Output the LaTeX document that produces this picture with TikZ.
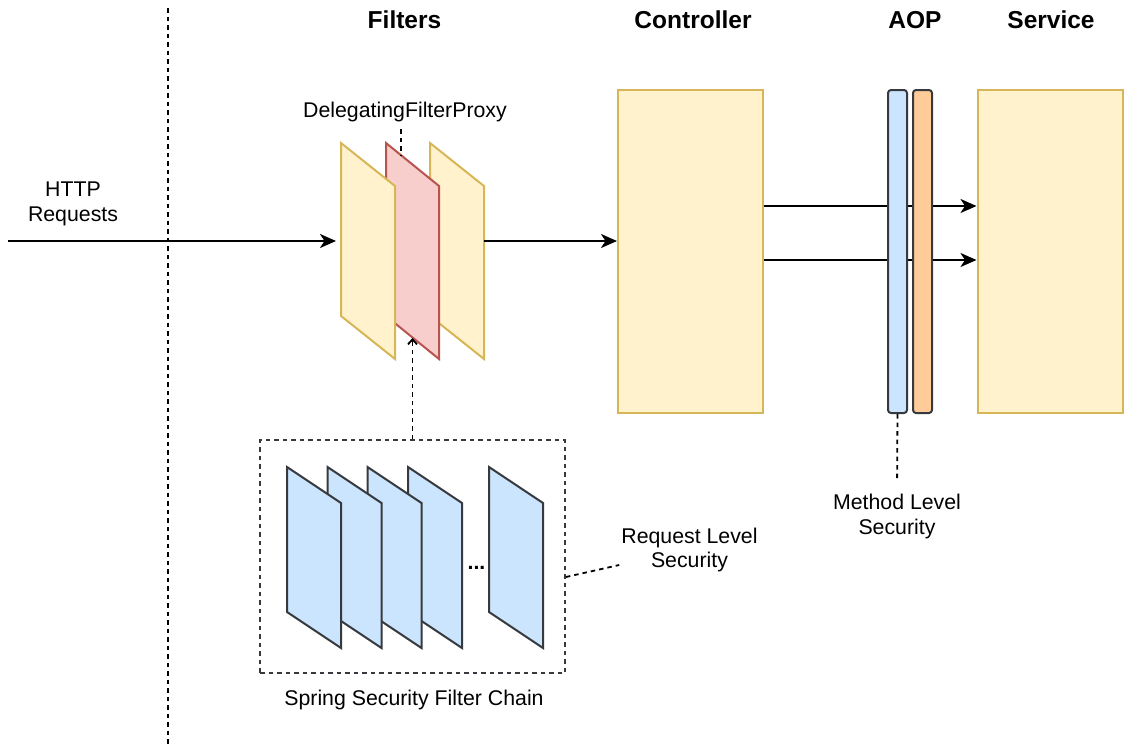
\documentclass[tikz,border=0pt]{standalone}
\usepackage{fontspec}
\setmainfont{Liberation Sans}
\usetikzlibrary{arrows.meta}
\definecolor{yfill}{HTML}{FFF2CC}
\definecolor{ydraw}{HTML}{D6B656}
\definecolor{rfill}{HTML}{F8CECC}
\definecolor{rdraw}{HTML}{B85450}
\definecolor{bfill}{HTML}{CCE5FF}
\definecolor{gdraw}{HTML}{36393D}
\definecolor{ofill}{HTML}{FFCC99}
\newcommand\plgram[6]{\draw[#1] (#2,#3) -- ++(#4,#5) -- ++(0,#6) -- ++(-#4,-#5) -- cycle;}
\begin{document}
\begin{tikzpicture}[x=1pt,y=-1pt,
  lbl/.style={font=\fontsize{21.3}{24.5}\selectfont, align=center, inner sep=2pt},
  hdr/.style={font=\fontsize{24.5}{28}\selectfont\bfseries, inner sep=0pt, anchor=base},
  ybox/.style={draw=ydraw, fill=yfill, line width=2pt},
  rbox/.style={draw=rdraw, fill=rfill, line width=2pt},
  bbox/.style={draw=gdraw, fill=bfill, line width=2pt},
  bar/.style={line width=2pt, rounded corners=3pt, minimum width=19pt, minimum height=323pt, inner sep=0pt},
  arr/.style={line width=2pt, -{Stealth[length=16pt, width=14pt, inset=4.5pt]}},
  dsh/.style={line width=1.8pt, dash pattern=on 4.5pt off 4pt},
]
\useasboundingbox (0,0) rectangle (1125,745);

% headers
\node[hdr] (hf) at (404.5,28) {Filters};
\node[hdr] (hc) at (693,28) {Controller};
\node[hdr] (ha) at (915,28) {AOP};
\node[hdr] (hs) at (1051,28) {Service};

% separator
\coordinate (sepTop) at (168,8);
\coordinate (sepBot) at (168,745);
\draw[dsh] (sepTop) -- (sepBot);

% HTTP requests
\node[lbl] (http) at (73,204) {HTTP\\Requests};
\coordinate (hstart) at (8,241);
\coordinate (fin) at (336,241);
\draw[arr] (hstart) -- (fin);

% filters
\plgram{ybox}{430}{143}{54}{43}{173}
\plgram{rbox}{386}{143}{53}{43}{173}
\plgram{ybox}{341}{143}{54}{43}{173}
\coordinate (fout) at (484,241);
\coordinate (redtop) at (401,155);
\coordinate (redbot) at (412.5,338);

\node[lbl, anchor=base, inner sep=0pt] (dfp) at (405,117) {DelegatingFilterProxy};
\draw[dsh] ([yshift=-12pt]dfp.base -| redtop) -- (redtop);

% controller and service
\node[ybox, minimum width=145pt, minimum height=323pt, inner sep=0pt] (ctrl) at (690.5,251.5) {};
\node[ybox, minimum width=145pt, minimum height=323pt, inner sep=0pt] (svc) at (1050,251.5) {};
\draw[arr] (fout) -- (fout -| ctrl.west);
\draw[arr] ([yshift=45.5pt]ctrl.east) -- ([yshift=45.5pt]svc.west);
\draw[arr] ([yshift=-8.5pt]ctrl.east) -- ([yshift=-8.5pt]svc.west);

% AOP bars
\node[bar, draw=gdraw, fill=bfill] (aopb) at (897.5,251.5) {};
\node[bar, draw=gdraw, fill=ofill] (aopo) at (922.5,251.5) {};
\node[lbl] (mls) at (897,516.5) {Method Level\\Security};
\draw[dsh, shorten >=13pt] (aopb.south) -- (mls.north);

% spring security filter chain
\node[draw=gdraw, dsh, minimum width=305pt, minimum height=233pt, inner sep=0pt] (chain) at (412.5,556.5) {};
\plgram{bbox}{489}{467}{54}{36}{145}
\plgram{bbox}{408}{467}{54}{36}{145}
\plgram{bbox}{367.5}{467}{54}{36}{145}
\plgram{bbox}{327.5}{467}{54}{36}{145}
\plgram{bbox}{287}{467}{54}{36}{145}
\node[lbl, inner sep=0pt, anchor=base, font=\fontsize{21.3}{24.5}\selectfont\bfseries] (dots) at (476.5,569) {...};
\node[lbl, inner sep=0pt, anchor=base] (sscf) at (414,705) {Spring Security Filter Chain};
\draw[dsh, -{Straight Barb[length=5pt, width=9pt]}] (chain.north) -- (redbot);

\node[lbl] (rls) at (689.5,550) {Request Level\\Security};
\draw[dsh] ([yshift=-20.5pt]chain.east) -- ([yshift=-15pt]rls.west);
\end{tikzpicture}
\end{document}
